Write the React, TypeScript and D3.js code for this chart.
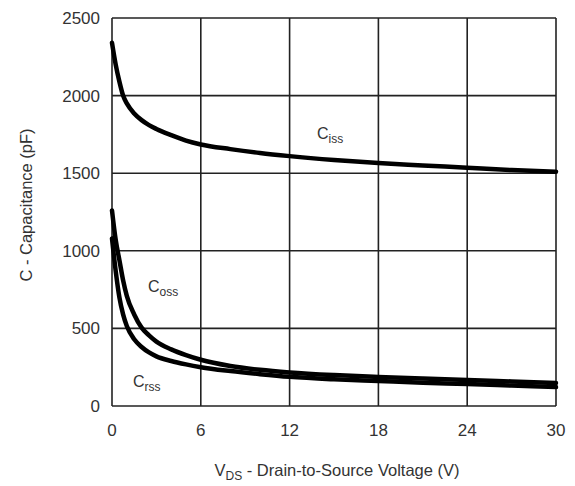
import React from "react";
import * as d3 from "d3";

const voltage = [0, 0.25, 0.5, 0.75, 1, 1.5, 2, 2.5, 3, 4, 5, 6, 8, 10, 12, 15, 18, 21, 24, 27, 30];
const ciss = [2340, 2200, 2090, 2000, 1950, 1885, 1842, 1810, 1785, 1745, 1710, 1685, 1655, 1630, 1610, 1585, 1565, 1550, 1535, 1520, 1510];
const coss = [1260, 1070, 940, 810, 710, 590, 505, 455, 415, 365, 328, 298, 258, 233, 216, 199, 187, 177, 168, 158, 148];
const crss = [1080, 870, 700, 590, 515, 430, 380, 345, 320, 290, 268, 250, 225, 205, 188, 172, 161, 150, 142, 132, 122];

const xTicks = [0, 6, 12, 18, 24, 30];
const yTicks = [0, 500, 1000, 1500, 2000, 2500];

const W = 575;
const H = 486;

export default function App() {
  const x = d3.scaleLinear().domain([0, 30]).range([112, 556]);
  const y = d3.scaleLinear().domain([0, 2500]).range([406, 18]);
  const line = d3
    .line<number>()
    .x((_, i) => x(voltage[i]))
    .y((d) => y(d))
    .curve(d3.curveMonotoneX);

  const font = "'Liberation Sans', Arial, sans-serif";
  const textColor = "#333";
  const gridColor = "#222";

  return (
    <svg
      width={W}
      height={H}
      style={{ position: "absolute", left: 0, top: 0, background: "#fff" }}
      fontFamily={font}
    >
      <rect x={0} y={0} width={W} height={H} fill="#fff" />
      {xTicks.map((t) => (
        <line key={"gx" + t} x1={x(t)} x2={x(t)} y1={y(0)} y2={y(2500)} stroke={gridColor} strokeWidth={1.6} />
      ))}
      {yTicks.map((t) => (
        <line key={"gy" + t} x1={x(0)} x2={x(30)} y1={y(t)} y2={y(t)} stroke={gridColor} strokeWidth={1.6} />
      ))}
      {xTicks.map((t) => (
        <text key={"tx" + t} x={x(t)} y={436} textAnchor="middle" fontSize={17} fill={textColor}>
          {t}
        </text>
      ))}
      {yTicks.map((t) => (
        <text key={"ty" + t} x={100} y={y(t) + 6} textAnchor="end" fontSize={17} fill={textColor}>
          {t}
        </text>
      ))}
      <path d={line(ciss) || ""} fill="none" stroke="#000" strokeWidth={4.5} strokeLinejoin="round" strokeLinecap="round" />
      <path d={line(coss) || ""} fill="none" stroke="#000" strokeWidth={4.5} strokeLinejoin="round" strokeLinecap="round" />
      <path d={line(crss) || ""} fill="none" stroke="#000" strokeWidth={4.5} strokeLinejoin="round" strokeLinecap="round" />

      <text x={317} y={139} fontSize={16} fill={textColor}>
        C<tspan fontSize={12} dy={4}>iss</tspan>
      </text>
      <text x={148} y={292} fontSize={16} fill={textColor}>
        C<tspan fontSize={12} dy={4}>oss</tspan>
      </text>
      <text x={133} y={387} fontSize={16} fill={textColor}>
        C<tspan fontSize={12} dy={4}>rss</tspan>
      </text>

      <text
        transform={`translate(32, 205) rotate(-90)`}
        textAnchor="middle"
        fontSize={16.5}
        fill={textColor}
      >
        C - Capacitance (pF)
      </text>
      <text x={337} y={476} textAnchor="middle" fontSize={16.5} fill={textColor}>
        V<tspan fontSize={12} dy={4}>DS</tspan>
        <tspan dy={-4}> - Drain-to-Source Voltage (V)</tspan>
      </text>
    </svg>
  );
}
